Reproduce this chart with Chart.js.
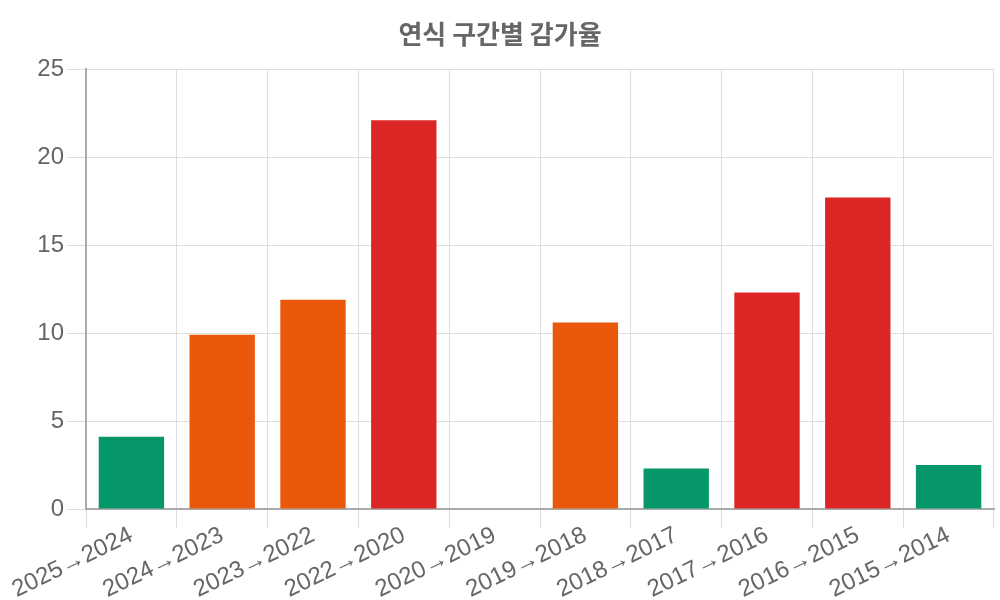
<!DOCTYPE html>
<html>
<head>
<meta charset="utf-8">
<script src="https://cdn.jsdelivr.net/npm/chart.js@4/dist/chart.umd.min.js"></script>
<style>
  html, body { margin: 0; padding: 0; background: #fff; }
  #wrap { width: 1000px; height: 600px; }
</style>
</head>
<body>
<div id="wrap"><canvas id="c"></canvas></div>
<script>
const labels = ['2025→2024', '2024→2023', '2023→2022', '2022→2020', '2020→2019', '2019→2018', '2018→2017', '2017→2016', '2016→2015', '2015→2014'];
const rates = [4.1, 9.9, 11.9, 22.1, 0, 10.6, 2.3, 12.3, 17.7, 2.5];
const yTicks = [0, 5, 10, 15, 20, 25];

// 감가율 크기에 따라 색 지정
function barColor(v) {
    if (v < 5) return '#059669';
    if (v < 12) return '#ea580c';
    return '#dc2626';
}

Chart.defaults.font.family = '"Liberation Sans", Arial, "Noto Sans CJK KR", sans-serif';
Chart.defaults.color = '#666';

const ctx = document.getElementById('c');
const myChart = new Chart(ctx, {
    type: 'bar',
    data: {
        labels: labels,
        datasets: [{
            label: '감가율',
            data: rates,
            backgroundColor: rates.map(barColor),
            borderWidth: 0
        }]
    },
    options: {
        responsive: true,
        maintainAspectRatio: false,
        animation: false,
        layout: { padding: { left: 6, right: 6, top: 0, bottom: 0 } },
        plugins: {
            legend: { display: false },
            title: {
                display: true,
                text: '연식 구간별 감가율',
                font: { size: 26, weight: 'bold', family: '"Noto Sans CJK KR", sans-serif' },
                color: '#666',
                padding: { top: 19, bottom: 19 }
            }
        },
        scales: {
            x: {
                ticks: { font: { size: 24 }, minRotation: 26, maxRotation: 26, padding: -7 },
                grid: { color: '#ddd', tickLength: 19 },
                border: { color: '#aaa', width: 2 },
                afterFit: axis => { axis.height = 91; }
            },
            y: {
                min: 0,
                max: 25,
                ticks: { stepSize: 5, font: { size: 24 } },
                afterBuildTicks: axis => { axis.ticks = yTicks.map(v => ({ value: v })); },
                grid: { color: '#ddd', tickLength: 19 },
                border: { color: '#aaa', width: 2 },
                afterFit: axis => { axis.width = 80; }
            }
        }
    }
});
</script>
</body>
</html>
